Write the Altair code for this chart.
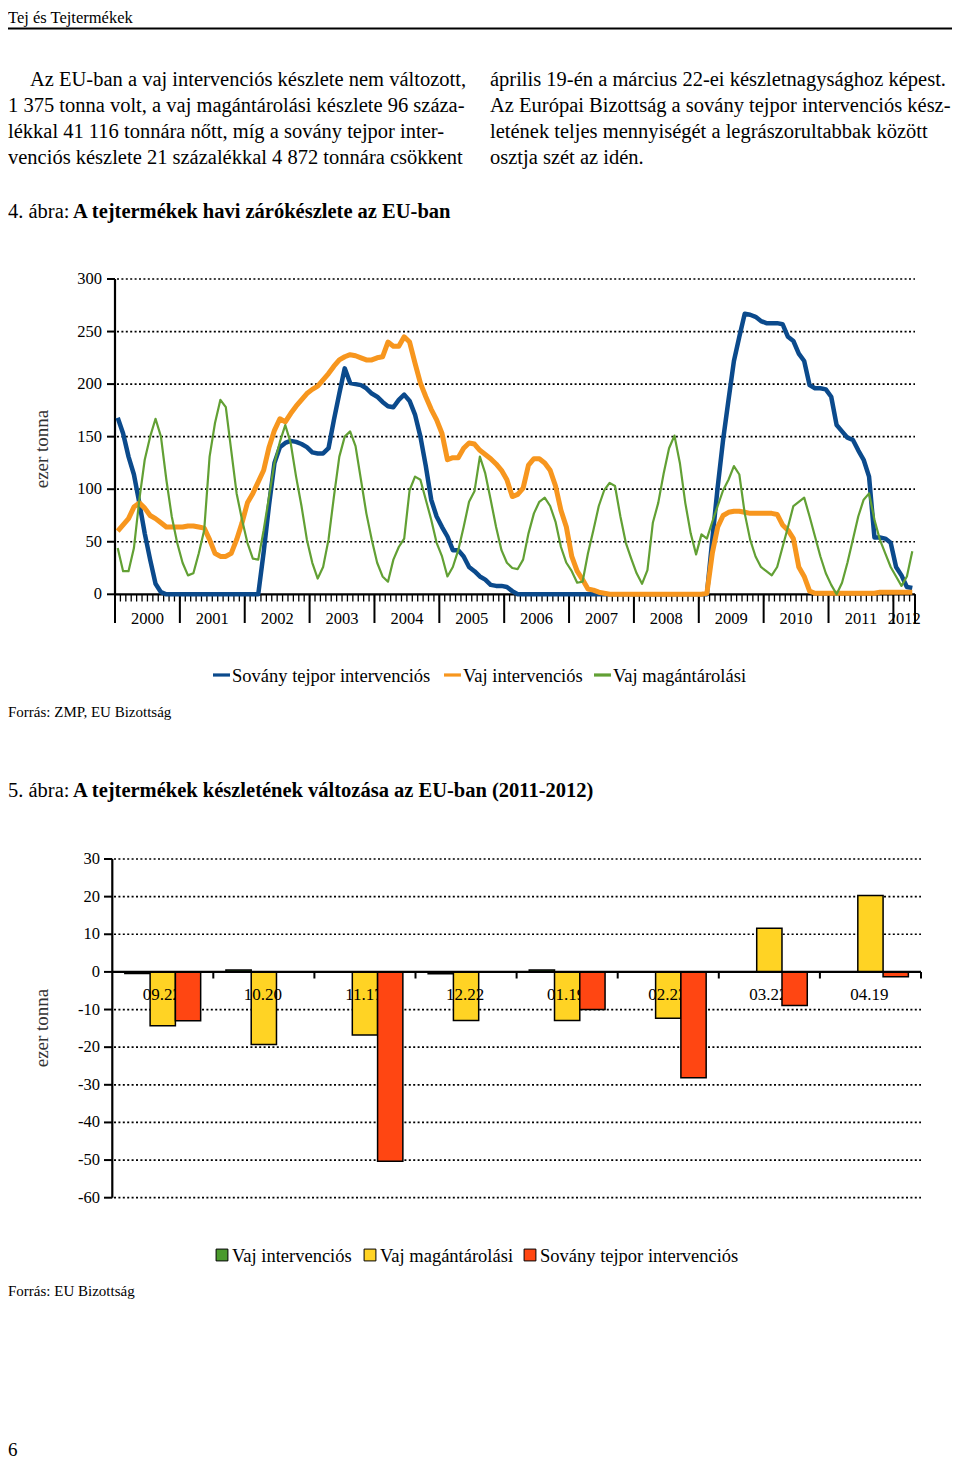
import altair as alt
import pandas as pd

FONT = "Liberation Serif"

# ---------------- data: figure 4 (monthly closing stocks, Jan 2000 - Apr 2012, thousand t) ----------------
series_names = ["Sovány tejpor intervenciós", "Vaj intervenciós", "Vaj magántárolási"]
year_labels = ["2000", "2001", "2002", "2003", "2004", "2005", "2006",
               "2007", "2008", "2009", "2010", "2011", "2012"]
line_ticks = [0, 50, 100, 150, 200, 250, 300]

sovany = [168, 153, 131, 114, 87, 58, 33, 10, 2,
          0, 0, 0, 0, 0, 0, 0, 0, 0, 0, 0, 0, 0, 0, 0, 0, 0, 0,
          40, 85, 125, 140, 144, 146, 145, 143, 140, 135,
          134, 134, 139, 166, 191, 215, 201, 200, 199, 196,
          191, 188, 183, 179, 178, 185, 190, 184, 171, 150,
          122, 90, 74, 64, 55, 42, 42, 36, 26, 22,
          17, 14, 9, 8, 8, 7, 3,
          0, 0, 0, 0, 0, 0, 0, 0, 0, 0, 0, 0, 0, 0, 0, 0, 0, 0,
          0, 0, 0, 0, 0, 0, 0, 0, 0, 0, 0, 0, 0, 0, 0, 0, 0, 0,
          52, 102, 147, 185, 222, 245, 267, 266, 264, 260,
          258, 258, 258, 257, 245, 241, 229, 222, 199, 196,
          196, 195, 188, 161, 155, 149, 147, 137, 128, 112,
          54, 54, 53, 49, 26, 18, 7, 6]

vaj_int = [60, 66, 72, 83, 87, 82, 75, 72, 68, 64,
           64, 64, 64, 65, 65, 64, 63, 52, 39, 36,
           36, 39, 52, 68, 87, 96, 107, 118, 140, 156,
           167, 164, 172, 179, 185, 191, 195, 198, 204, 210,
           217, 223, 226, 228, 227, 225, 223, 223, 225, 226,
           240, 236, 236, 245, 240, 220, 201, 188, 176, 166,
           153, 128, 130, 130, 139, 144, 143, 137, 133, 129,
           124, 118, 109, 93, 95, 101, 123, 129, 129, 125,
           118, 103, 80, 64, 36, 22, 14, 5, 4, 2,
           1, 0, 0, 0, 0, 0, 0, 0, 0, 0,
           0, 0, 0, 0, 0, 0, 0, 0, 0, 1,
           39, 64, 75, 78, 79, 79, 78, 77, 77, 77,
           77, 77, 76, 66, 61, 53, 26, 17, 3, 1,
           1, 1, 1, 1, 1, 1, 1, 1, 1, 1,
           1, 2, 2, 2, 2, 2, 2, 2]

vaj_mag = [44, 22, 22, 44, 90, 128, 150, 167, 150, 109,
           74, 49, 30, 18, 20, 39, 61, 131, 163, 185,
           178, 137, 96, 71, 49, 34, 33, 61, 93, 125,
           145, 161, 144, 112, 84, 52, 30, 15, 26, 52,
           93, 131, 150, 155, 141, 109, 77, 52, 30, 17,
           12, 33, 45, 53, 99, 112, 109, 90, 71, 49,
           36, 17, 26, 42, 64, 88, 98, 131, 115, 90,
           64, 42, 30, 25, 24, 33, 58, 77, 88, 92,
           84, 69, 45, 30, 22, 11, 12, 39, 61, 84,
           99, 106, 103, 74, 49, 34, 20, 10, 23, 68,
           87, 115, 139, 151, 125, 87, 58, 38, 57, 53,
           69, 84, 99, 109, 122, 114, 77, 52, 36, 26,
           22, 18, 26, 45, 64, 84, 88, 92, 74, 55,
           36, 20, 9, 0, 11, 30, 52, 74, 90, 96,
           71, 52, 39, 26, 17, 8, 17, 41]

# ---------------- data: figure 5 (change of stocks, 2011-2012, thousand t) ----------------
bar_dates = ["09.22", "10.20", "11.17", "12.22", "01.19", "02.23", "03.22", "04.19"]
bar_series = ["Vaj intervenciós", "Vaj magántárolási", "Sovány tejpor intervenciós"]
bar_vaj_int = [-0.4, 0.5, 0, -0.5, 0.5, 0, 0, 0]
bar_vaj_mag = [-14.3, -19.3, -16.8, -12.9, -12.9, -12.3, 11.6, 20.3]
bar_sovany = [-13.0, 0, -50.3, 0, -10.0, -28.1, -8.9, -1.3]
bar_ticks = [30, 20, 10, 0, -10, -20, -30, -40, -50, -60]

# ---------------- styles ----------------
BLUE, ORANGE, GREEN = "#0b4a8c", "#f7961e", "#62a034"
B_GREEN, B_YELLOW, B_RED = "#4a9a2c", "#ffd324", "#ff4612"

W, H = 944, 1453
M = 8  # page margin


def px(v):
    return v - M


ONE = pd.DataFrame({"a": [0]})

# scales (page geometry -> chart pixels)
LX = alt.Scale(domain=[0, 148], range=[px(115), px(915)], nice=False, zero=False)
LY = alt.Scale(domain=[0, 300], range=[px(594.3), px(279)], nice=False, zero=False)
BX = alt.Scale(domain=bar_dates, range=[px(112.2), px(921)], paddingInner=0.25, paddingOuter=0.125)
BQ = alt.Scale(domain=[0, 8], range=[px(112.2), px(921)], nice=False, zero=False)
BO = alt.Scale(domain=bar_series)
BY = alt.Scale(domain=[-60, 30], range=[px(1197.7), px(859)], nice=False, zero=False)

layers = []


def text_layer(rows, size, weight="normal", align="left", color="black", angle=None, baseline="middle"):
    df = pd.DataFrame(rows, columns=["px", "py", "t"])
    kw = dict(font=FONT, fontSize=size, fontWeight=weight, align=align, baseline=baseline, color=color)
    if angle is not None:
        kw["angle"] = angle
    return alt.Chart(df).mark_text(**kw).encode(
        x=alt.X("px:Q", scale=None, axis=None),
        y=alt.Y("py:Q", scale=None, axis=None),
        text="t:N",
    )


# ---------------- page text ----------------
layers.append(text_layer([(0, px(10), "Tej és Tejtermékek")], 16.5, baseline="top"))
layers.append(alt.Chart(ONE).mark_rule(color="black", strokeWidth=2.2).encode(
    x=alt.value(0), x2=alt.value(W), y=alt.value(px(28.5))))

para = [
    (px(30), px(80), "Az EU-ban a vaj intervenciós készlete nem változott,"),
    (0, px(106), "1 375 tonna volt, a vaj magántárolási készlete 96 száza-"),
    (0, px(132), "lékkal 41 116 tonnára nőtt, míg a sovány tejpor inter-"),
    (0, px(158), "venciós készlete 21 százalékkal 4 872 tonnára csökkent"),
    (px(490), px(80), "április 19-én a március 22-ei készletnagysághoz képest."),
    (px(490), px(106), "Az Európai Bizottság a sovány tejpor intervenciós kész-"),
    (px(490), px(132), "letének teljes mennyiségét a legrászorultabbak között"),
    (px(490), px(158), "osztja szét az idén."),
]
layers.append(text_layer(para, 20.5))

layers.append(text_layer([(0, px(212), "4. ábra:"), (0, px(791), "5. ábra:")], 20.5))
layers.append(text_layer([(px(73), px(212), "A tejtermékek havi zárókészlete az EU-ban"),
                          (px(73), px(791), "A tejtermékek készletének változása az EU-ban (2011-2012)")],
                         20.5, weight="bold"))

layers.append(text_layer([(0, px(712), "Forrás: ZMP, EU Bizottság"),
                          (0, px(1291), "Forrás: EU Bizottság")], 15))
layers.append(text_layer([(0, px(1450), "6")], 19))

layers.append(text_layer([(px(42), px(449), "ezer tonna"), (px(42), px(1028), "ezer tonna")],
                         19, align="center", color="#333333", angle=270))

# ---------------- figure 4: line chart ----------------
grid_l = pd.DataFrame({"v": [t for t in line_ticks if t > 0]})
layers.append(alt.Chart(grid_l).mark_rule(color="black", strokeWidth=1.7, strokeDash=[2, 2.4]).encode(
    y=alt.Y("v:Q", scale=LY, axis=None), x=alt.value(px(117)), x2=alt.value(px(915))))

ticks_l = pd.DataFrame({"v": line_ticks, "t": [str(t) for t in line_ticks]})
layers.append(alt.Chart(ticks_l).mark_rule(color="black", strokeWidth=2).encode(
    y=alt.Y("v:Q", scale=LY, axis=None), x=alt.value(px(107)), x2=alt.value(px(115))))
layers.append(alt.Chart(ticks_l).mark_text(font=FONT, fontSize=16.5, align="right", baseline="middle",
                                           color="black").encode(
    y=alt.Y("v:Q", scale=LY, axis=None), x=alt.value(px(102)), text="t:N"))

yaxis_l = pd.DataFrame({"a": [0], "b": [300]})
layers.append(alt.Chart(yaxis_l).mark_rule(color="black", strokeWidth=2.2).encode(
    y=alt.Y("a:Q", scale=LY, axis=None), y2="b:Q", x=alt.value(px(115))))

minor = pd.DataFrame({"b": list(range(0, 149))})
layers.append(alt.Chart(minor).mark_rule(color="black", strokeWidth=1.3).encode(
    x=alt.X("b:Q", scale=LX, axis=None), y=alt.value(px(594.3)), y2=alt.value(px(601.5))))
major = pd.DataFrame({"b": [12 * i for i in range(13)] + [148]})
layers.append(alt.Chart(major).mark_rule(color="black", strokeWidth=2).encode(
    x=alt.X("b:Q", scale=LX, axis=None), y=alt.value(px(594.3)), y2=alt.value(px(623))))
ylab = pd.DataFrame({"c": [12 * i + 6 for i in range(12)] + [146], "t": year_labels})
layers.append(alt.Chart(ylab).mark_text(font=FONT, fontSize=16.5, align="center", baseline="middle",
                                        color="black").encode(
    x=alt.X("c:Q", scale=LX, axis=None), y=alt.value(px(619)), text="t:N"))

xaxis_l = pd.DataFrame({"a": [0], "b": [148]})
layers.append(alt.Chart(xaxis_l).mark_rule(color="black", strokeWidth=2.2).encode(
    x=alt.X("a:Q", scale=LX, axis=None), x2="b:Q", y=alt.value(px(594.3))))


def line_layer(values, color, width):
    df = pd.DataFrame({"m": [i + 0.5 for i in range(len(values))], "v": values})
    return alt.Chart(df).mark_line(color=color, strokeWidth=width, strokeJoin="round").encode(
        x=alt.X("m:Q", scale=LX, axis=None), y=alt.Y("v:Q", scale=LY, axis=None))


layers.append(line_layer(sovany, BLUE, 4.5))
layers.append(line_layer(vaj_int, ORANGE, 5))
layers.append(line_layer(vaj_mag, GREEN, 2.2))

# legend of figure 4
leg_l = pd.DataFrame({"x1": [px(213), px(444), px(594)], "x2": [px(230), px(461), px(611)],
                      "c": [BLUE, ORANGE, GREEN]})
layers.append(alt.Chart(leg_l).mark_rule(strokeWidth=3.2).encode(
    x=alt.X("x1:Q", scale=None, axis=None), x2="x2:Q", y=alt.value(px(675)),
    color=alt.Color("c:N", scale=None)))
layers.append(text_layer([(px(232), px(676), series_names[0]),
                          (px(463), px(676), series_names[1]),
                          (px(613), px(676), series_names[2])], 18.5))

# ---------------- figure 5: bar chart ----------------
grid_b = pd.DataFrame({"v": [t for t in bar_ticks if t != 0]})
layers.append(alt.Chart(grid_b).mark_rule(color="black", strokeWidth=1.7, strokeDash=[2, 2.4]).encode(
    y=alt.Y("v:Q", scale=BY, axis=None), x=alt.value(px(114)), x2=alt.value(px(921))))

ticks_b = pd.DataFrame({"v": bar_ticks, "t": [str(t) for t in bar_ticks]})
layers.append(alt.Chart(ticks_b).mark_rule(color="black", strokeWidth=2).encode(
    y=alt.Y("v:Q", scale=BY, axis=None), x=alt.value(px(104)), x2=alt.value(px(112.3))))
layers.append(alt.Chart(ticks_b).mark_text(font=FONT, fontSize=16.5, align="right", baseline="middle",
                                           color="black").encode(
    y=alt.Y("v:Q", scale=BY, axis=None), x=alt.value(px(100)), text="t:N"))

yaxis_b = pd.DataFrame({"a": [30], "b": [-60]})
layers.append(alt.Chart(yaxis_b).mark_rule(color="black", strokeWidth=2.2).encode(
    y=alt.Y("a:Q", scale=BY, axis=None), y2="b:Q", x=alt.value(px(112.3))))

cat_ticks = pd.DataFrame({"b": list(range(1, 9))})
layers.append(alt.Chart(cat_ticks).mark_rule(color="black", strokeWidth=2).encode(
    x=alt.X("b:Q", scale=BQ, axis=None), y=alt.value(px(972)), y2=alt.value(px(978.5))))


def bar_layer(values, name, color):
    df = pd.DataFrame({"d": bar_dates, "s": name, "v": values, "z": 0})
    return alt.Chart(df).transform_filter("datum.v != 0").mark_bar(
        fill=color, stroke="black", strokeWidth=1.5).encode(
        x=alt.X("d:N", scale=BX, axis=None),
        xOffset=alt.XOffset("s:N", scale=BO),
        y=alt.Y("v:Q", scale=BY, axis=None),
        y2="z:Q",
    )


layers.append(bar_layer(bar_vaj_int, bar_series[0], B_GREEN))
layers.append(bar_layer(bar_vaj_mag, bar_series[1], B_YELLOW))

cat_lab = pd.DataFrame({"d": bar_dates})
layers.append(alt.Chart(cat_lab).mark_text(font=FONT, fontSize=17, align="center", baseline="middle",
                                           color="black", dx=-1).encode(
    x=alt.X("d:N", scale=BX, axis=None), y=alt.value(px(995)), text="d:N"))

layers.append(bar_layer(bar_sovany, bar_series[2], B_RED))

xaxis_b = pd.DataFrame({"a": [0], "b": [8], "z": [0]})
layers.append(alt.Chart(xaxis_b).mark_rule(color="black", strokeWidth=2.2).encode(
    x=alt.X("a:Q", scale=BQ, axis=None), x2="b:Q", y=alt.Y("z:Q", scale=BY, axis=None)))

# legend of figure 5
leg_b = pd.DataFrame({"x": [px(222), px(370), px(530)], "c": [B_GREEN, B_YELLOW, B_RED]})
layers.append(alt.Chart(leg_b).mark_square(size=140, stroke="black", strokeWidth=1, opacity=1).encode(
    x=alt.X("x:Q", scale=None, axis=None), y=alt.value(px(1255)),
    fill=alt.Fill("c:N", scale=None)))
layers.append(text_layer([(px(232), px(1256), bar_series[0]),
                          (px(380), px(1256), bar_series[1]),
                          (px(540), px(1256), bar_series[2])], 18.5))

chart = alt.layer(*layers).resolve_scale(
    x="independent", y="independent"
).properties(
    width=W, height=H, padding=0, autosize=alt.AutoSizeParams(type="none")
).configure_view(stroke=None)

chart.save("out.html", embed_options={"renderer": "svg", "actions": False})
